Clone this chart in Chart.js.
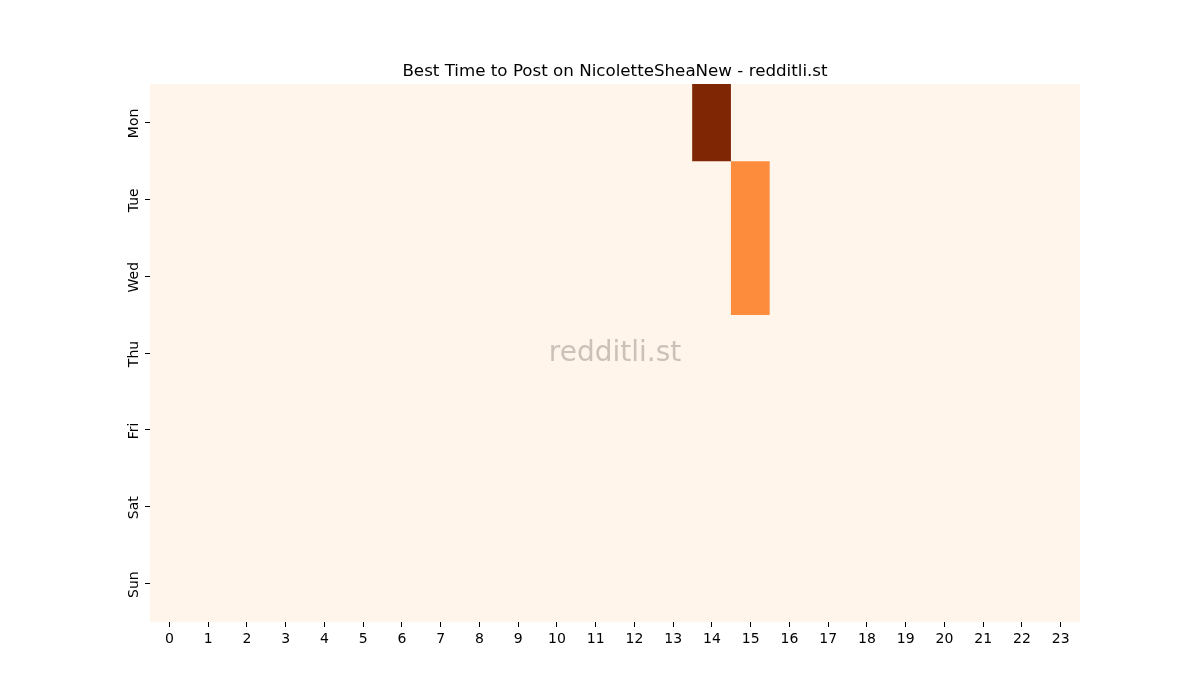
<!DOCTYPE html>
<html>
<head>
<meta charset="utf-8">
<script src="https://cdn.jsdelivr.net/npm/chart.js@4.4.1/dist/chart.umd.min.js"></script>
<style>
  html, body { margin: 0; padding: 0; background: #fff; }
  #wrap { width: 1200px; height: 700px; }
</style>
</head>
<body>
<div id="wrap"><canvas id="heat"></canvas></div>
<script>
// rivit = viikonpäivät, sarakkeet = tunnit
const days = ['Mon', 'Tue', 'Wed', 'Thu', 'Fri', 'Sat', 'Sun'];
const hours = ['0','1','2','3','4','5','6','7','8','9','10','11','12','13','14','15','16','17','18','19','20','21','22','23'];

const monValues = [0,0,0,0,0,0,0,0,0,0,0,0,0,0,2,0,0,0,0,0,0,0,0,0];
const tueValues = [0,0,0,0,0,0,0,0,0,0,0,0,0,0,0,1,0,0,0,0,0,0,0,0];
const wedValues = [0,0,0,0,0,0,0,0,0,0,0,0,0,0,0,1,0,0,0,0,0,0,0,0];
const thuValues = [0,0,0,0,0,0,0,0,0,0,0,0,0,0,0,0,0,0,0,0,0,0,0,0];
const friValues = [0,0,0,0,0,0,0,0,0,0,0,0,0,0,0,0,0,0,0,0,0,0,0,0];
const satValues = [0,0,0,0,0,0,0,0,0,0,0,0,0,0,0,0,0,0,0,0,0,0,0,0];
const sunValues = [0,0,0,0,0,0,0,0,0,0,0,0,0,0,0,0,0,0,0,0,0,0,0,0];

const rows = [monValues, tueValues, wedValues, thuValues, friValues, satValues, sunValues];

// matplotlibin "Oranges" väriskaala
const oranges = ['#fff5eb','#fee6ce','#fdd0a2','#fdae6b','#fd8d3c','#f16913','#d94801','#a63603','#7f2704'];
const maxVal = Math.max(...rows.flat());

function hexToRgb(h) {
  return [parseInt(h.slice(1,3),16), parseInt(h.slice(3,5),16), parseInt(h.slice(5,7),16)];
}
function colorFor(v) {
  const t = maxVal > 0 ? v / maxVal : 0;
  const pos = t * (oranges.length - 1);
  const i = Math.min(Math.floor(pos), oranges.length - 2);
  const f = pos - i;
  const a = hexToRgb(oranges[i]), b = hexToRgb(oranges[i + 1]);
  const c = a.map((x, k) => Math.round(x + (b[k] - x) * f));
  return `rgb(${c[0]},${c[1]},${c[2]})`;
}

const FONT = "'DejaVu Sans', sans-serif";

const datasets = rows.map((vals, r) => ({
  label: days[r],
  data: vals.map(() => [r, r + 1]),
  backgroundColor: vals.map(colorFor),
  borderWidth: 0,
  borderSkipped: false,
  grouped: false,
  barPercentage: 1,
  categoryPercentage: 1
}));

// taustaväri + päivien nimet pystyyn + vesileima
const heatPlugin = {
  id: 'heatExtras',
  beforeDatasetsDraw(chart) {
    const { ctx, chartArea: a } = chart;
    ctx.save();
    ctx.fillStyle = colorFor(0);
    ctx.fillRect(a.left, a.top, a.right - a.left, a.bottom - a.top);
    ctx.restore();
  },
  afterDraw(chart) {
    const { ctx, chartArea: a } = chart;
    const y = chart.scales.y;
    ctx.save();
    ctx.fillStyle = '#000';
    ctx.font = `14px ${FONT}`;
    ctx.textAlign = 'center';
    ctx.textBaseline = 'alphabetic';
    days.forEach((d, i) => {
      const py = y.getPixelForValue(i + 0.5) + 1;
      ctx.save();
      ctx.translate(a.left - 12, py);
      ctx.rotate(-Math.PI / 2);
      ctx.fillText(d, 0, 0);
      ctx.restore();
    });
    ctx.font = `28px ${FONT}`;
    ctx.fillStyle = 'rgba(140,130,125,0.45)';
    ctx.textBaseline = 'middle';
    ctx.fillText('redditli.st', (a.left + a.right) / 2, (a.top + a.bottom) / 2 + 1);
    ctx.restore();
  }
};

new Chart(document.getElementById('heat'), {
  type: 'bar',
  data: { labels: hours, datasets: datasets },
  plugins: [heatPlugin],
  options: {
    responsive: true,
    maintainAspectRatio: false,
    animation: false,
    layout: { padding: { top: 63, right: 120, bottom: 0, left: 150 } },
    plugins: {
      legend: { display: false },
      tooltip: { enabled: false },
      title: {
        display: true,
        text: 'Best Time to Post on NicoletteSheaNew - redditli.st',
        color: '#000',
        font: { family: FONT, size: 16.7, weight: 'normal', lineHeight: 1 },
        padding: { top: 0, bottom: 4.3 }
      }
    },
    scales: {
      x: {
        type: 'category',
        offset: true,
        border: { display: false },
        grid: { offset: false, drawOnChartArea: false, drawTicks: true, tickLength: 5, color: '#000' },
        ticks: { color: '#000', font: { family: FONT, size: 14 }, padding: 4, maxRotation: 0, autoSkip: false },
        afterFit(s) { s.height = 78; }
      },
      y: {
        type: 'linear',
        min: 0,
        max: 7,
        reverse: true,
        border: { display: false },
        grid: { drawOnChartArea: false, drawTicks: true, tickLength: 5, color: '#000' },
        ticks: { display: false },
        afterBuildTicks(s) { s.ticks = days.map((d, i) => ({ value: i + 0.5 })); },
        afterFit(s) { s.width = 0; }
      }
    }
  }
});
</script>
</body>
</html>
